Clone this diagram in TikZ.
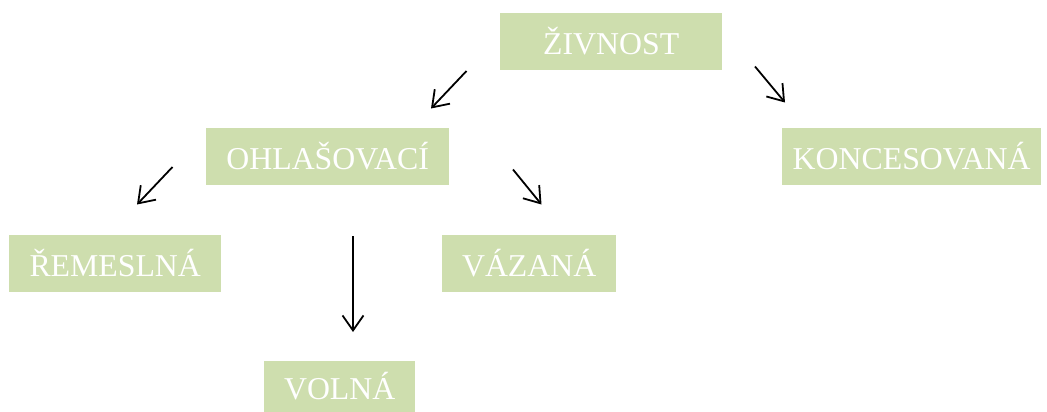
\documentclass[tikz,border=0pt]{standalone}
\usepackage{fontspec}
\setmainfont{Liberation Serif}
\usetikzlibrary{arrows.meta}
\definecolor{boxgreen}{RGB}{206,222,174}
\tikzset{
  catbox/.style={fill=boxgreen, draw=none, inner sep=0pt, text=white,
    font=\fontsize{31.8}{38}\selectfont, text height=25.5pt, text depth=0pt,
    anchor=north west},
  link/.style={line width=1.8pt, -{Straight Barb[length=15pt,width=21pt,line width=1.8pt]}}
}
\begin{document}
\begin{tikzpicture}[x=1pt, y=-1pt]
\useasboundingbox (0,0) rectangle (1047,412);

% category boxes
\node[catbox, minimum width=222pt, minimum height=57pt] (zivnost) at (500,13) {ŽIVNOST};
\node[catbox, minimum width=243pt, minimum height=57pt] (ohlas) at (206,128) {OHLAŠOVACÍ};
\node[catbox, minimum width=259pt, minimum height=57pt] (konc) at (782,128) {KONCESOVANÁ};
\node[catbox, minimum width=212pt, minimum height=57pt] (remes) at (9,235) {ŘEMESLNÁ};
\node[catbox, minimum width=174pt, minimum height=57pt] (vaz) at (442,235) {VÁZANÁ};
\node[catbox, minimum width=151pt, minimum height=51pt] (voln) at (264,361) {VOLNÁ};

% arrow end points
\coordinate (zo1) at (466.5,71);   \coordinate (zo2) at (431,108.5);
\coordinate (zk1) at (755,66.5);   \coordinate (zk2) at (785,102.5);
\coordinate (or1) at (172.5,167);  \coordinate (or2) at (137,204.5);
\coordinate (ov1) at (513,169.5);  \coordinate (ov2) at (541.5,204.5);
\coordinate (ol1) at (353,236);    \coordinate (ol2) at (353,332);

\draw[link] (zo1) -- (zo2);
\draw[link] (zk1) -- (zk2);
\draw[link] (or1) -- (or2);
\draw[link] (ov1) -- (ov2);
\draw[link] (ol1) -- (ol2);
\end{tikzpicture}
\end{document}
